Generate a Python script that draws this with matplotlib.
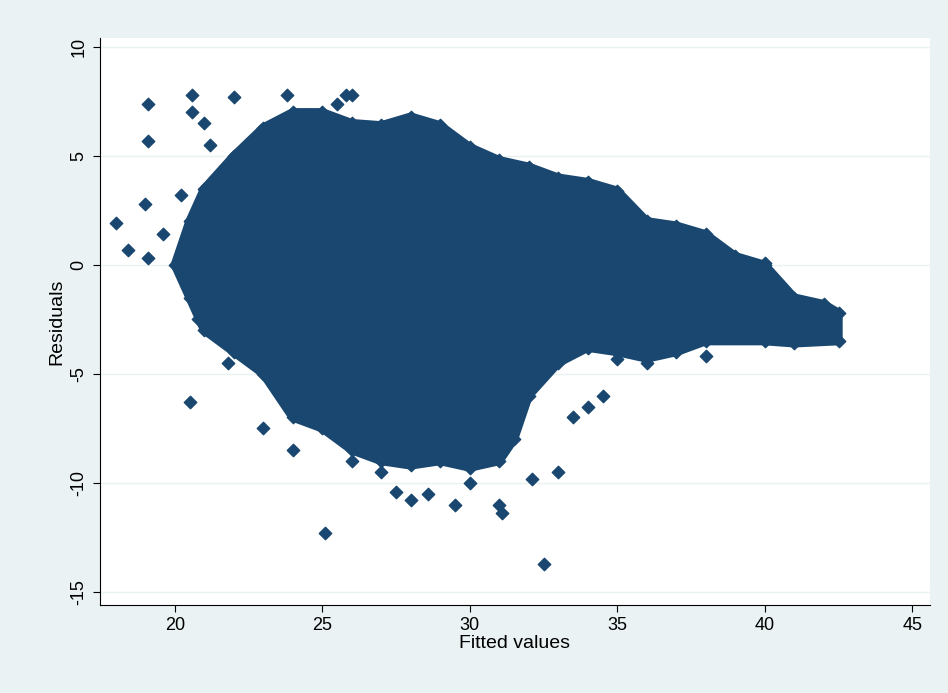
import matplotlib.pyplot as plt
from matplotlib.patches import Polygon

plt.rcParams['font.family'] = ['Liberation Sans', 'DejaVu Sans']

# envelope of the dense residual cloud (fitted, residual)
upper_x = [20.0, 20.5, 21, 22, 23, 24, 25, 26, 27, 28, 29, 30, 31, 32, 33, 34, 35, 36, 37, 38, 39, 40, 41, 42, 42.5]
upper_y = [0.0, 2.0, 3.5, 5.0, 6.3, 7.0, 7.0, 6.5, 6.4, 6.8, 6.4, 5.4, 4.8, 4.5, 4.0, 3.8, 3.4, 2.0, 1.8, 1.4, 0.4, 0.0, -1.5, -1.8, -2.2]
lower_x = [42.5, 41, 40, 38, 37, 36, 35, 34, 33, 32, 31.5, 31, 30, 29, 28, 27, 26, 25, 24, 23, 22, 21, 20.5]
lower_y = [-3.5, -3.6, -3.5, -3.5, -4.0, -4.3, -4.0, -3.8, -4.5, -6.0, -8.0, -9.0, -9.3, -9.0, -9.2, -9.0, -8.5, -7.5, -7.0, -5.0, -4.0, -3.0, -1.5]

# scattered points outside the dense core
out_x = [18.0, 18.4, 19.0, 19.1, 19.1, 19.1, 19.6, 20.5, 20.6, 20.6, 22.0, 23.8, 25.1, 25.8, 26.0, 32.5,
         31.0, 31.1, 29.5, 28.0, 28.6, 27.5, 30.0, 32.1, 33.0, 33.5, 34.0, 25.5, 21.0, 21.2, 20.2, 20.8,
         21.8, 23.0, 24.0, 26.0, 27.0, 36.0, 38.0, 39.0, 40.0, 35.0, 34.5]
out_y = [1.9, 0.7, 2.8, 7.4, 5.7, 0.3, 1.4, -6.3, 7.8, 7.0, 7.7, 7.8, -12.3, 7.8, 7.8, -13.7,
         -11.0, -11.4, -11.0, -10.8, -10.5, -10.4, -10.0, -9.8, -9.5, -7.0, -6.5, 7.4, 6.5, 5.5, 3.2, -2.5,
         -4.5, -7.5, -8.5, -9.0, -9.5, -4.5, -4.2, 0.2, 0.1, -4.3, -6.0]

navy = '#1a476f'

fig = plt.figure(figsize=(9.48, 6.93), dpi=100, facecolor='#eaf2f3')
ax = fig.add_axes([0.105, 0.127, 0.876, 0.818])
ax.set_facecolor('white')

ax.add_patch(Polygon(list(zip(upper_x + lower_x, upper_y + lower_y)), closed=True,
                     facecolor=navy, edgecolor=navy, lw=6, joinstyle='round', zorder=2))
ax.scatter(upper_x + lower_x, upper_y + lower_y, marker='D', s=40, color=navy, zorder=3)
ax.scatter(out_x, out_y, marker='D', s=40, color=navy, zorder=3)

ax.set_xlim(17.45, 45.6)
ax.set_ylim(-15.6, 10.4)
ax.set_xticks([20, 25, 30, 35, 40, 45])
ax.set_yticks([-15, -10, -5, 0, 5, 10])
ax.set_yticklabels(['-15', '-10', '-5', '0', '5', '10'], rotation=90, va='center')
ax.tick_params(labelsize=13, colors='black', length=5)
ax.grid(axis='y', color='#eaf2f3', lw=1)
ax.set_axisbelow(True)
for s in ['top', 'right']:
    ax.spines[s].set_visible(False)
ax.set_xlabel('Fitted values', fontsize=14, labelpad=1)
ax.set_ylabel('Residuals', fontsize=14, labelpad=4)

plt.savefig('out.png', facecolor=fig.get_facecolor())
